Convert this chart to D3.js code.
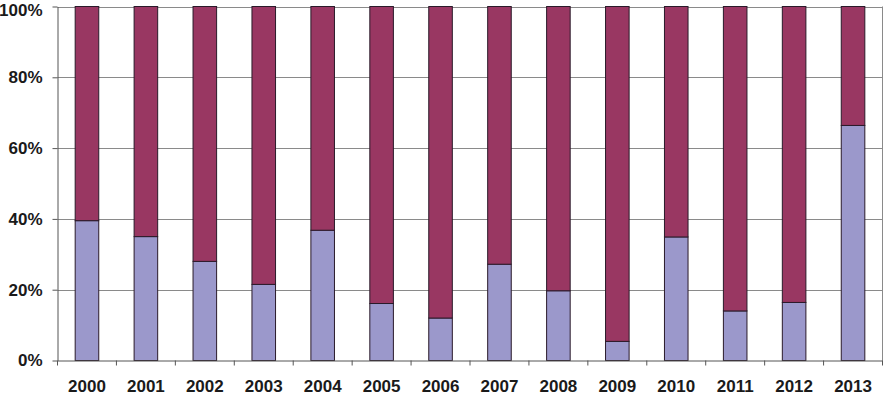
<!DOCTYPE html>
<html>
<head>
<meta charset="utf-8">
<script src="https://cdn.jsdelivr.net/npm/d3@7"></script>
<style>
  body { margin: 0; background: #fff; }
  svg { display: block; font-family: Arial, "Liberation Sans", sans-serif; }
</style>
</head>
<body>
<div id="chart"></div>
<script>
// Share of two groups per year (stacked to 100%)
const years = ["2000", "2001", "2002", "2003", "2004", "2005", "2006",
               "2007", "2008", "2009", "2010", "2011", "2012", "2013"];
const lowerShare = [39.5, 35.0, 28.0, 21.5, 36.8, 16.1, 12.0,
                    27.2, 19.7, 5.4, 34.9, 14.0, 16.4, 66.4];
const upperShare = lowerShare.map(v => 100 - v);
const yTicks = [0, 20, 40, 60, 80, 100];

const width = 885;
const height = 396;
const margin = { top: 6.5, right: 2.5, bottom: 35.5, left: 57.5 };

const svg = d3.select("#chart").append("svg")
    .attr("width", width)
    .attr("height", height);

const x = d3.scaleBand()
    .domain(years)
    .range([margin.left, width - margin.right]);

const y = d3.scaleLinear()
    .domain([0, 100])
    .range([height - margin.bottom, margin.top]);

const rows = years.map((yr, i) => ({ year: yr, lower: lowerShare[i], upper: upperShare[i] }));
const stack = d3.stack().keys(["lower", "upper"]);
const series = stack(rows);
const colors = { lower: "#9b98cb", upper: "#993762" };

// gridlines
svg.append("g")
    .selectAll("line")
    .data(yTicks.filter(t => t > 0))
    .join("line")
    .attr("x1", margin.left)
    .attr("x2", width - margin.right)
    .attr("y1", d => Math.round(y(d)) + 0.5)
    .attr("y2", d => Math.round(y(d)) + 0.5)
    .attr("stroke", "#8a8a8a")
    .attr("stroke-width", 1);

// right border line
svg.append("line")
    .attr("x1", width - margin.right)
    .attr("x2", width - margin.right)
    .attr("y1", margin.top)
    .attr("y2", height - margin.bottom)
    .attr("stroke", "#8a8a8a");

// bars
const barW = x.bandwidth() / 2.5;
svg.append("g")
    .selectAll("g")
    .data(series)
    .join("g")
    .attr("fill", d => colors[d.key])
    .selectAll("rect")
    .data(d => d)
    .join("rect")
    .attr("x", d => x(d.data.year) + (x.bandwidth() - barW) / 2)
    .attr("y", d => y(d[1]))
    .attr("width", barW)
    .attr("height", d => y(d[0]) - y(d[1]))
    .attr("stroke", "#2a1a2a")
    .attr("stroke-width", 1);

// y axis
const yAxis = svg.append("g")
    .attr("transform", `translate(${margin.left},0)`)
    .call(d3.axisLeft(y).tickValues(yTicks).tickFormat(d => d + "%").tickSize(5).tickSizeOuter(0).tickPadding(10));
yAxis.select(".domain").attr("stroke", "#555");
yAxis.selectAll(".tick line").attr("stroke", "#555");
yAxis.selectAll("text")
    .attr("fill", "#1a1a1a")
    .style("font-size", "17px")
    .style("font-weight", "bold");
// keep the top label inside the picture
yAxis.selectAll(".tick text").filter(d => d === 100).attr("dy", "0.5em");

// x axis
const xAxis = svg.append("g")
    .attr("transform", `translate(0,${height - margin.bottom})`)
    .call(d3.axisBottom(x).tickSize(0).tickPadding(19));
xAxis.select(".domain").attr("stroke", "#555");
xAxis.selectAll("text")
    .attr("fill", "#1a1a1a")
    .style("font-size", "17px")
    .style("font-weight", "bold");

// category separator ticks
svg.append("g")
    .selectAll("line")
    .data(years.concat(["end"]))
    .join("line")
    .attr("x1", (d, i) => margin.left + i * x.step())
    .attr("x2", (d, i) => margin.left + i * x.step())
    .attr("y1", height - margin.bottom)
    .attr("y2", height - margin.bottom + 5)
    .attr("stroke", "#555");
</script>
</body>
</html>
